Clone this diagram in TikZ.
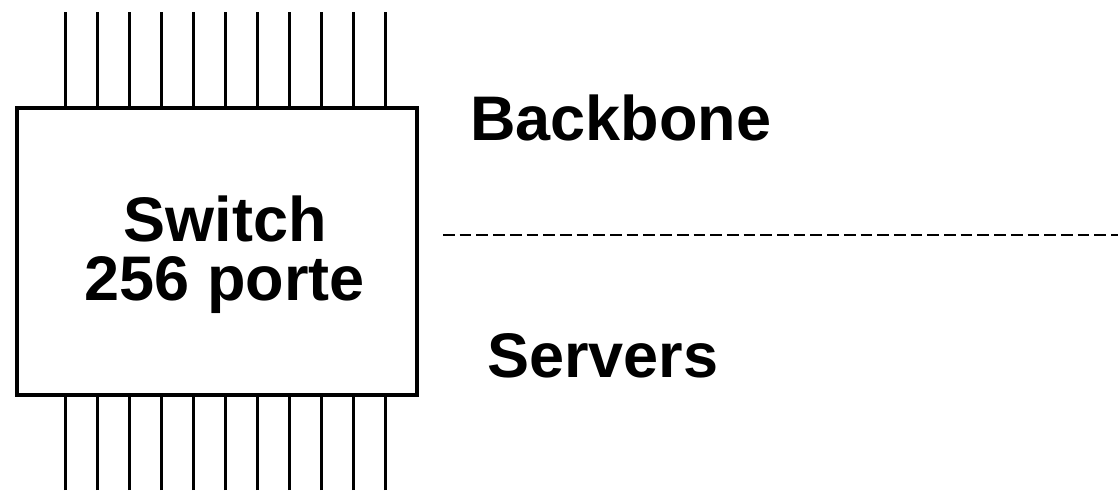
\documentclass[tikz,border=0pt]{standalone}
\usepackage{fontspec}
\setmainfont{Liberation Sans}
\begin{document}
\begin{tikzpicture}[x=1pt,y=-1pt,
  pin/.style={line width=3pt},
  housing/.style={draw,line width=3.3pt,minimum width=400pt,minimum height=287pt,inner sep=0pt},
  big/.style={font=\fontsize{63}{59}\selectfont\bfseries,inner sep=0pt},
  divider/.style={line width=2.5pt,dash pattern=on 11.7pt off 5pt}]
\useasboundingbox (0,0) rectangle (1118,490);
% switch housing
\node[housing] (sw) at (217,251.5) {};
\node[big,align=center,anchor=base] (swtext) at (225,300) {Switch\\256 porte};
% ports on top and bottom edges
\foreach \i in {0,...,10}{
  \pgfmathsetmacro{\px}{65+32*\i}
  \coordinate (t\i) at (\px,12);
  \coordinate (b\i) at (\px,490);
  \draw[pin] (t\i) -- (t\i |- sw.north);
  \draw[pin] (b\i) -- (b\i |- sw.south);
}
% labels and separator
\node[big,anchor=base west] (bb) at (470,140) {Backbone};
\node[big,anchor=base west] (srv) at (487,377) {Servers};
\coordinate (dl) at (443,235);
\coordinate (dr) at (1118,235);
\draw[divider] (dl) -- (dr);
\end{tikzpicture}
\end{document}
